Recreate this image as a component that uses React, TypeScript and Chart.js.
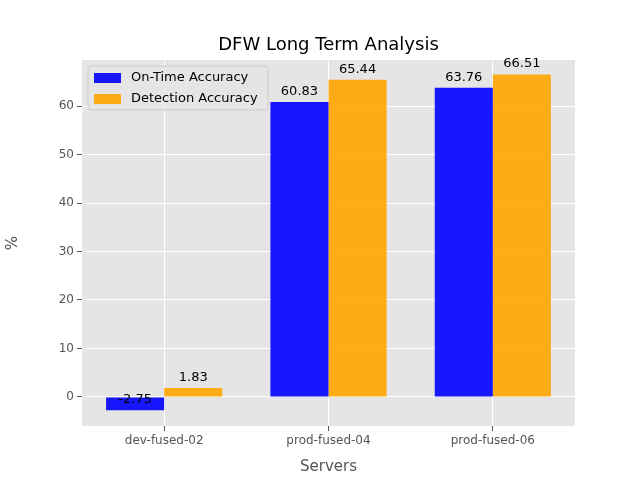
import { useEffect, useRef } from "react";
import { Chart, registerables } from "chart.js";

Chart.register(...registerables);

const servers = ["dev-fused-02", "prod-fused-04", "prod-fused-06"];
const onTime = [-2.75, 60.83, 63.76];
const detection = [1.83, 65.44, 66.51];
const seriesNames = ["On-Time Accuracy", "Detection Accuracy"];
const seriesColors = ["rgba(0,0,255,0.9)", "rgba(255,165,0,0.9)"];
const yTicks = [0, 10, 20, 30, 40, 50, 60];

const FONT = "'DejaVu Sans', sans-serif";

const extras = {
  id: "extras",
  beforeDraw(chart: any) {
    const { ctx, chartArea: a } = chart;
    ctx.save();
    ctx.fillStyle = "#E5E5E5";
    ctx.fillRect(a.left, a.top, a.right - a.left, a.bottom - a.top);
    ctx.restore();
  },
  afterDatasetsDraw(chart: any) {
    const { ctx, chartArea: a } = chart;
    ctx.save();
    ctx.font = `13px ${FONT}`;
    ctx.fillStyle = "#000";
    ctx.textAlign = "center";
    ctx.textBaseline = "bottom";
    chart.data.datasets.forEach((ds: any, i: number) => {
      chart.getDatasetMeta(i).data.forEach((bar: any, j: number) => {
        const v = ds.data[j];
        ctx.fillText(v.toFixed(2), bar.x, chart.scales.y.getPixelForValue(v) - 4);
      });
    });
    // title
    ctx.font = `18px ${FONT}`;
    ctx.fillText("DFW Long Term Analysis", (a.left + a.right) / 2, a.top - 6);
    // legend
    const lx = a.left + 6, ly = a.top + 6;
    ctx.fillStyle = "rgba(229,229,229,0.8)";
    ctx.strokeStyle = "#cccccc";
    ctx.beginPath();
    ctx.roundRect(lx, ly, 180, 44, 3);
    ctx.fill();
    ctx.stroke();
    ctx.font = `13px ${FONT}`;
    ctx.textAlign = "left";
    ctx.textBaseline = "middle";
    seriesNames.forEach((n, i) => {
      const y = ly + 12 + i * 21;
      ctx.fillStyle = seriesColors[i];
      ctx.fillRect(lx + 6, y - 5, 27, 10);
      ctx.fillStyle = "#000";
      ctx.fillText(n, lx + 43, y);
    });
    ctx.restore();
  },
};

export default function App() {
  const ref = useRef<HTMLCanvasElement>(null);
  const inst = useRef<Chart | null>(null);

  useEffect(() => {
    if (!ref.current) return;
    if (inst.current) inst.current.destroy();
    document.body.style.margin = "0";
    inst.current = new Chart(ref.current, {
      type: "bar",
      data: {
        labels: servers,
        datasets: [onTime, detection].map((d, i) => ({
          label: seriesNames[i],
          data: d,
          backgroundColor: seriesColors[i],
          borderWidth: 0,
          categoryPercentage: 0.707,
          barPercentage: 1,
        })),
      },
      options: {
        responsive: false,
        animation: false,
        layout: { padding: { top: 60, right: 65, left: 0, bottom: 0 } },
        plugins: { legend: { display: false }, tooltip: { enabled: false } },
        scales: {
          x: {
            grid: { color: "#fff", offset: false, tickColor: "#555", tickLength: 5, lineWidth: 1 },
            border: { display: false },
            ticks: { color: "#555", font: { family: FONT, size: 12 } },
            title: { display: true, text: "Servers", color: "#555", font: { family: FONT, size: 15 }, padding: { top: 2 } },
            afterFit: (s: any) => { s.height = 54; },
          },
          y: {
            min: -6,
            max: 69.5,
            afterBuildTicks: (s: any) => { s.ticks = yTicks.map((v) => ({ value: v })); },
            grid: { color: "#fff", tickColor: "#555", tickLength: 5 },
            border: { display: false },
            ticks: { color: "#555", font: { family: FONT, size: 12 } },
            title: { display: true, text: "%", color: "#555", font: { family: FONT, size: 15 } },
            afterFit: (s: any) => { s.width = 82; },
          },
        },
      },
      plugins: [extras],
    });
    return () => { inst.current?.destroy(); inst.current = null; };
  }, []);

  return <canvas ref={ref} width={640} height={480} style={{ display: "block" }} />;
}
